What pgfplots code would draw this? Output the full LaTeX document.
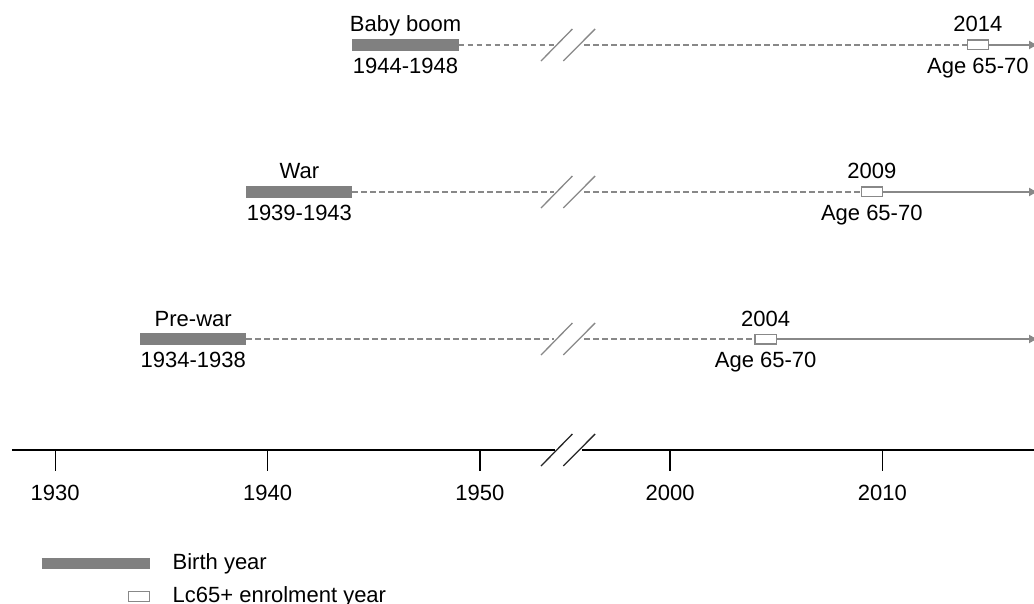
\documentclass[border=0pt]{standalone}
\usepackage{fontspec}
\setmainfont{Liberation Sans}
\usepackage{pgfplots}
\pgfplotsset{compat=1.18}
\usetikzlibrary{arrows.meta}
\definecolor{bargray}{RGB}{128,128,128}
\definecolor{linegray}{RGB}{136,136,136}
\begin{document}
\fontsize{11}{13.2}\selectfont
\begin{tikzpicture}
\begin{axis}[
  scale only axis, width=511pt, height=225pt,
  xmin=1927.965, xmax=1976.10, ymin=0.245, ymax=3.306,
  % broken time axis: years after 1990 are shifted left by 41.04 years
  x coord trafo/.code={\pgfmathparse{#1-41.04*(#1>1990)}},
  clip=false,
  axis x line*=bottom, axis y line=none,
  x axis line style={draw=none},
  xtick={1930,1940,1950,2000,2010},
  xticklabels={1930,1940,1950,2000,2010},
  tick align=outside, major tick length=10.5pt,
  xtick style={black, line width=0.65pt},
  xticklabel style={yshift=-3pt},
  legend cell align=left,
  legend style={at={(axis cs:1929.095,-0.46)}, anchor=north west,
    draw=none, fill=none, inner sep=0pt, outer sep=0pt,
    row sep=6.5pt, column sep=8.6pt,
    nodes={inner sep=0pt, text height=8pt, text depth=2pt}},
]
% time axis line with break
\addplot[black, line width=0.65pt, forget plot] coordinates {(1927.965,0.245) (1953.53,0.245)};
\addplot[black, line width=0.65pt, forget plot] coordinates {(1954.80,0.245) (1976.10,0.245)};
\addplot[black!85, line width=0.65pt, forget plot] coordinates {(1952.88,0.136) (1954.36,0.354)};
\addplot[black!85, line width=0.65pt, forget plot] coordinates {(1953.93,0.136) (1955.43,0.354)};

% ---- cohort rows: 3 = Baby boom, 2 = War, 1 = Pre-war ----
% birth-year bars
\addplot[bargray, line width=6pt, forget plot] coordinates {(1944,3) (1949,3)};
\addplot[bargray, line width=6pt, forget plot] coordinates {(1939,2) (1944,2)};
\addplot[bargray, line width=6pt, forget plot] coordinates {(1934,1) (1939,1)};

% dashed connectors (interrupted at the axis break)
\addplot[linegray, line width=0.65pt, dash pattern=on 2.75pt off 1.75pt, forget plot] coordinates {(1949,3) (1953.50,3)};
\addplot[linegray, line width=0.65pt, dash pattern=on 2.75pt off 1.75pt, forget plot] coordinates {(1954.91,3) (2014,3)};
\addplot[linegray, line width=0.65pt, dash pattern=on 2.75pt off 1.75pt, forget plot] coordinates {(1944,2) (1953.50,2)};
\addplot[linegray, line width=0.65pt, dash pattern=on 2.75pt off 1.75pt, forget plot] coordinates {(1954.91,2) (2009,2)};
\addplot[linegray, line width=0.65pt, dash pattern=on 2.75pt off 1.75pt, forget plot] coordinates {(1939,1) (1953.50,1)};
\addplot[linegray, line width=0.65pt, dash pattern=on 2.75pt off 1.75pt, forget plot] coordinates {(1954.91,1) (2004,1)};

% break marks on rows
\addplot[linegray, line width=0.65pt, forget plot] coordinates {(1952.88,2.891) (1954.36,3.109)};
\addplot[linegray, line width=0.65pt, forget plot] coordinates {(1953.93,2.891) (1955.43,3.109)};
\addplot[linegray, line width=0.65pt, forget plot] coordinates {(1952.88,1.891) (1954.36,2.109)};
\addplot[linegray, line width=0.65pt, forget plot] coordinates {(1953.93,1.891) (1955.43,2.109)};
\addplot[linegray, line width=0.65pt, forget plot] coordinates {(1952.88,0.891) (1954.36,1.109)};
\addplot[linegray, line width=0.65pt, forget plot] coordinates {(1953.93,0.891) (1955.43,1.109)};

% solid follow-up lines with arrow
\addplot[linegray, line width=0.65pt, -{Latex[length=4.5pt,width=4.5pt]}, forget plot] coordinates {(2015,3) (2017.33,3)};
\addplot[linegray, line width=0.65pt, -{Latex[length=4.5pt,width=4.5pt]}, forget plot] coordinates {(2010,2) (2017.33,2)};
\addplot[linegray, line width=0.65pt, -{Latex[length=4.5pt,width=4.5pt]}, forget plot] coordinates {(2005,1) (2017.33,1)};

% enrolment-year boxes
\addplot[linegray, line width=0.65pt, fill=white, forget plot] coordinates {(2014,2.967) (2015,2.967) (2015,3.033) (2014,3.033)} -- cycle;
\addplot[linegray, line width=0.65pt, fill=white, forget plot] coordinates {(2009,1.967) (2010,1.967) (2010,2.033) (2009,2.033)} -- cycle;
\addplot[linegray, line width=0.65pt, fill=white, forget plot] coordinates {(2004,0.967) (2005,0.967) (2005,1.033) (2004,1.033)} -- cycle;

% labels
\node[anchor=base, yshift=6.5pt] at (axis cs:1946.5,3) {Baby boom};
\node[anchor=base, yshift=-14.25pt] at (axis cs:1946.5,3) {1944-1948};
\node[anchor=base, yshift=6.5pt] at (axis cs:1941.5,2) {War};
\node[anchor=base, yshift=-14.25pt] at (axis cs:1941.5,2) {1939-1943};
\node[anchor=base, yshift=6.5pt] at (axis cs:1936.5,1) {Pre-war};
\node[anchor=base, yshift=-14.25pt] at (axis cs:1936.5,1) {1934-1938};
\node[anchor=base, yshift=6.5pt] at (axis cs:2014.5,3) {2014};
\node[anchor=base, yshift=-14.25pt] at (axis cs:2014.5,3) {Age 65-70};
\node[anchor=base, yshift=6.5pt] at (axis cs:2009.5,2) {2009};
\node[anchor=base, yshift=-14.25pt] at (axis cs:2009.5,2) {Age 65-70};
\node[anchor=base, yshift=6.5pt] at (axis cs:2004.5,1) {2004};
\node[anchor=base, yshift=-14.25pt] at (axis cs:2004.5,1) {Age 65-70};

% legend
\addlegendimage{legend image code/.code={\draw[bargray, line width=5.75pt] (0pt,0pt) -- (54pt,0pt);}}
\addlegendentry{Birth year}
\addlegendimage{legend image code/.code={\path[draw=none] (0pt,0pt) -- (54pt,0pt); \draw[linegray, line width=0.65pt, fill=white] (43.5pt,-2.4pt) rectangle (54pt,2.4pt);}}
\addlegendentry{Lc65+ enrolment year}
\end{axis}
\pgfresetboundingbox
\path[use as bounding box] (-6pt,-77pt) rectangle (511pt,225pt);
\end{tikzpicture}
\end{document}
